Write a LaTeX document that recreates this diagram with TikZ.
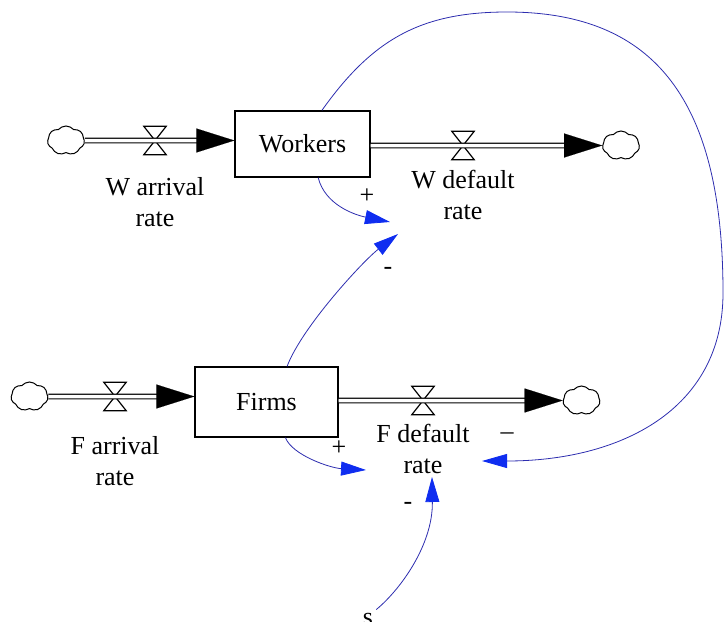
\documentclass[tikz,border=0pt]{standalone}
\usepackage{fontspec}
\setmainfont{Liberation Serif}
\newfontfamily\diagramfont{Liberation Serif}
\usepackage{xcolor}
\usepackage{tikz}
\usetikzlibrary{arrows.meta,positioning,shapes.symbols}
\definecolor{linkblue}{RGB}{45,45,175}
\definecolor{headblue}{RGB}{15,45,240}

\begin{document}
\begin{tikzpicture}[x=1pt,y=-1pt,font=\diagramfont\fontsize{26}{31}\selectfont]
    \tikzstyle{stock}=[draw=black,line width=1.3pt,inner sep=0pt]
    \tikzstyle{valve}=[inner sep=0pt,minimum width=22pt,minimum height=28pt]
    \tikzstyle{cloud_node}=[cloud,draw=black,line width=1pt,cloud puffs=7,cloud puff arc=100,cloud ignores aspect,inner sep=0pt,minimum width=37pt,minimum height=29pt]
    \tikzstyle{rate_label}=[align=center,inner sep=0pt]
    \tikzstyle{pipe}=[double,double distance=3.5pt,line width=1.2pt,shorten >=30pt]
    \tikzstyle{pipe_head}=[draw=white,line width=0.1pt,-{Triangle[length=38pt,width=24pt,color=black]}]
    \tikzstyle{link}=[draw=linkblue,line width=0.8pt,-{Triangle[length=25pt,width=14pt,color=headblue]}]
    \tikzstyle{sign}=[inner sep=0pt]
    \useasboundingbox (0,0) rectangle (725,621);

    \node[stock,minimum width=135pt,minimum height=66pt] (workers) at (302.5,144) {Workers};
    \node[stock,minimum width=143pt,minimum height=70pt] (firms) at (266.5,402) {Firms};

    \node[cloud_node] (w_source) at (66,140.5) {};
    \node[cloud_node] (w_sink) at (621,145.5) {};
    \node[cloud_node] (f_source) at (29.5,396.5) {};
    \node[cloud_node] (f_sink) at (581.5,400.5) {};

    \foreach \vname/\vx/\vy in {w_in/155/140.5,w_out/463/145.5,f_in/115/396.5,f_out/423/400.5}{
        \node[valve] (\vname) at (\vx,\vy) {};
        \draw[line width=1.2pt] (\vname.north west) -- (\vname.north east) -- (\vname.south west) -- (\vname.south east) -- cycle;
    }

    \node[rate_label,below=23pt of w_in] (w_in_label) {W arrival\\rate};
    \node[rate_label,below=10pt of w_out] (w_out_label) {W default\\rate};
    \node[rate_label,below=26pt of f_in] (f_in_label) {F arrival\\rate};
    \node[rate_label,below=9pt of f_out] (f_out_label) {F default\\rate};

\path (w_source) edge[pipe] (w_source -| workers.west)
      (w_source) edge[pipe_head] (w_source -| workers.west);
\path (workers.east |- w_sink) edge[pipe] (w_sink)
      (workers.east |- w_sink) edge[pipe_head] (w_sink);
\path (f_source) edge[pipe] (f_source -| firms.west)
      (f_source) edge[pipe_head] (f_source -| firms.west);
\path (firms.east |- f_sink) edge[pipe] (f_sink)
      (firms.east |- f_sink) edge[pipe_head] (f_sink);

    \node[inner sep=3pt] (s) at (368,619) {s};
    \coordinate (w_rate_a) at (390,222);
    \coordinate (w_rate_b) at (398,234);
    \coordinate (f_rate_a) at (366,470);
    \coordinate (f_rate_b) at (482,461);
    \coordinate (f_rate_c) at (432,477);

\draw[link] (workers.-65) .. controls (325,205) and (355,215) .. (w_rate_a);
\draw[link] (firms.60) .. controls (302,327) and (363,261) .. (w_rate_b);
\draw[link] (workers.60) .. controls (372,40) and (420,12) .. (507,12)
            .. controls (657,12) and (723,103) .. (723,293)
            .. controls (723,410) and (620,461) .. (f_rate_b);
\draw[link] (firms.-62) .. controls (292,455) and (330,468) .. (f_rate_a);
\draw[link] (s.north east) .. controls (400,590) and (433,545) .. (f_rate_c);

    \node[sign] (plus_w) at (367,196) {+};
    \node[sign] (minus_w) at (388,271) {-};
    \node[sign] (minus_f) at (507,436) {–};
    \node[sign] (plus_f) at (339,448) {+};
    \node[sign] (minus_s) at (408,506) {-};

\end{tikzpicture}
\end{document}
